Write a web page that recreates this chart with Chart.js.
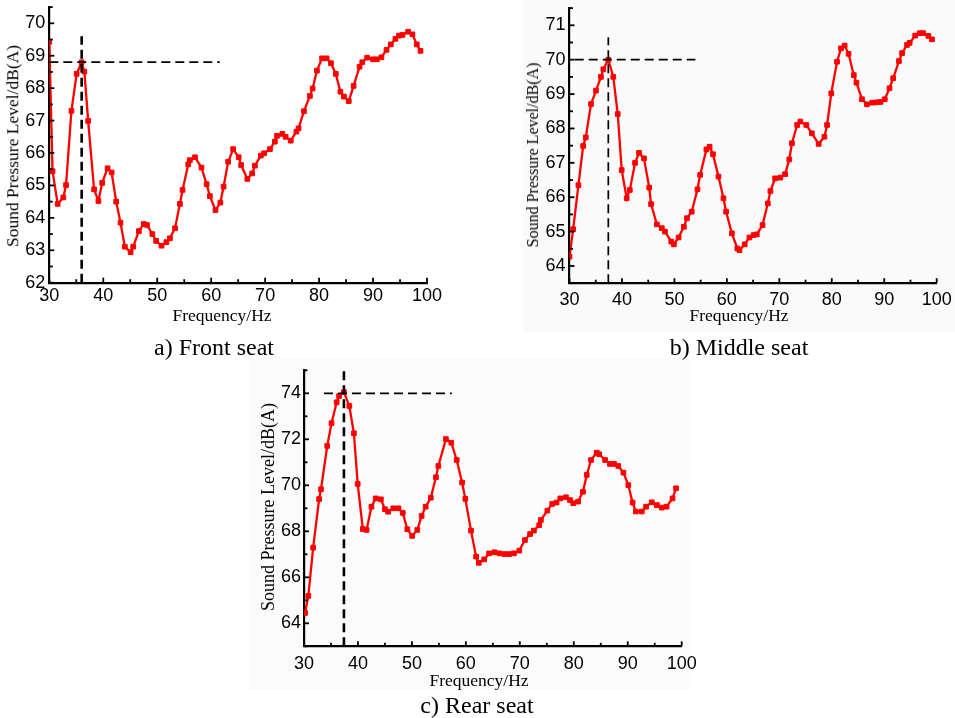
<!DOCTYPE html>
<html>
<head>
<meta charset="utf-8">
<script src="https://cdn.jsdelivr.net/npm/chart.js@4.4.1/dist/chart.umd.min.js"></script>
<style>
  html, body { margin: 0; padding: 0; background: #ffffff; }
  body { width: 955px; height: 718px; position: relative; overflow: hidden; }
  .sheet { position: absolute; }
  canvas { position: absolute; }
  .txt {
    position: absolute; white-space: nowrap; color: #000;
    font-family: "Liberation Serif", "Times New Roman", serif;
    transform: translate(-50%, -50%);
    line-height: 1;
  }
  .vert { transform: translate(-50%, -50%) rotate(-90deg); }
</style>
</head>
<body>
<div class="sheet" style="left:523px;top:0;width:432px;height:332px;background:#fafafa"></div>
<div class="sheet" style="left:250px;top:358px;width:440px;height:332px;background:#fbfbfb"></div>

<canvas id="front" width="470" height="330" style="left:0;top:0"></canvas>
<canvas id="middle" width="440" height="330" style="left:515px;top:0"></canvas>
<canvas id="rear" width="460" height="330" style="left:250px;top:355px"></canvas>

<div class="txt vert" style="left:13px;top:146px;font-size:17.5px">Sound Pressure Level/dB(A)</div>
<div class="txt" style="left:222px;top:316px;font-size:17.5px">Frequency/Hz</div>
<div class="txt" style="left:214px;top:347px;font-size:24px">a) Front seat</div>

<div class="txt vert" style="left:533px;top:155px;font-size:16px">Sound Pressure Level/dB(A)</div>
<div class="txt" style="left:739px;top:316px;font-size:17.5px">Frequency/Hz</div>
<div class="txt" style="left:739px;top:347px;font-size:24px">b) Middle seat</div>

<div class="txt vert" style="left:268px;top:507px;font-size:18px">Sound Pressure Level/dB(A)</div>
<div class="txt" style="left:479px;top:681px;font-size:17.5px">Frequency/Hz</div>
<div class="txt" style="left:477px;top:705px;font-size:24px">c) Rear seat</div>

<script>
// Measured spectra: frequency (Hz) and A-weighted sound pressure level (dB(A))
const freqFront = [30.0, 30.6, 31.55, 32.6, 33.1, 34.1, 35.07, 36.0, 36.5, 37.2, 38.3, 39.1, 39.8, 40.8, 41.55, 42.4, 43.2, 44.0, 45.07, 45.55, 46.6, 47.5, 48.1, 49.1, 49.8, 50.8, 51.7, 52.35, 53.3, 54.2, 54.7, 55.75, 56.05, 57.0, 58.2, 59.15, 59.76, 60.8, 61.7, 62.3, 63.15, 64.07, 65.1, 65.55, 66.7, 67.6, 68.1, 69.2, 69.8, 70.9, 71.8, 72.2, 73.2, 73.8, 74.75, 75.8, 76.2, 77.2, 78.3, 78.8, 79.6, 80.55, 81.4, 82.2, 83.1, 83.95, 84.6, 85.5, 86.4, 87.5, 88.0, 88.9, 90.0, 90.7, 91.55, 92.5, 93.3, 94.15, 94.8, 95.45, 96.5, 97.3, 98.1, 98.8];
const levelFront = [69.43, 65.44, 64.43, 64.63, 65.01, 67.30, 68.44, 68.80, 68.51, 66.99, 64.88, 64.52, 65.08, 65.53, 65.40, 64.50, 63.85, 63.11, 62.94, 63.11, 63.59, 63.81, 63.78, 63.50, 63.29, 63.14, 63.25, 63.37, 63.68, 64.43, 64.86, 65.65, 65.78, 65.87, 65.55, 65.04, 64.67, 64.24, 64.47, 64.96, 65.73, 66.12, 65.87, 65.63, 65.20, 65.37, 65.61, 65.92, 65.99, 66.12, 66.35, 66.53, 66.59, 66.50, 66.38, 66.66, 66.76, 67.29, 67.76, 67.99, 68.54, 68.92, 68.92, 68.77, 68.44, 67.89, 67.74, 67.60, 68.07, 68.66, 68.80, 68.94, 68.89, 68.89, 68.95, 69.18, 69.35, 69.52, 69.62, 69.64, 69.74, 69.66, 69.35, 69.15];

const freqMiddle = [30.0, 30.7, 31.7, 32.6, 33.1, 34.1, 35.05, 36.0, 36.45, 37.4, 38.35, 39.2, 39.95, 40.9, 41.5, 42.5, 43.25, 44.2, 45.2, 45.55, 46.65, 47.6, 48.2, 49.4, 49.9, 50.8, 51.8, 52.4, 53.3, 54.4, 54.9, 56.1, 56.7, 57.35, 58.4, 59.35, 59.85, 60.95, 62.0, 62.4, 63.4, 64.3, 65.1, 65.7, 66.8, 67.8, 68.3, 69.2, 70.2, 71.1, 71.9, 72.4, 73.4, 74.0, 75.15, 76.2, 77.5, 78.6, 79.1, 79.9, 81.0, 81.75, 82.45, 83.2, 84.2, 84.7, 85.75, 86.7, 87.7, 88.6, 89.3, 90.1, 91.0, 91.7, 92.8, 93.4, 94.35, 94.85, 95.9, 96.8, 97.4, 98.4, 99.1];
const levelMiddle = [64.27, 65.07, 66.35, 67.49, 67.74, 68.71, 69.10, 69.50, 69.72, 70.00, 69.50, 68.42, 66.79, 65.97, 66.21, 67.00, 67.29, 67.13, 66.28, 65.80, 65.21, 65.10, 65.00, 64.71, 64.63, 64.83, 65.14, 65.39, 65.58, 66.23, 66.65, 67.39, 67.47, 67.25, 66.60, 65.97, 65.58, 64.95, 64.51, 64.46, 64.63, 64.83, 64.90, 64.92, 65.19, 65.82, 66.18, 66.55, 66.57, 66.67, 67.10, 67.57, 68.10, 68.20, 68.10, 67.86, 67.55, 67.76, 68.10, 69.02, 69.94, 70.33, 70.41, 70.17, 69.55, 69.33, 68.85, 68.70, 68.75, 68.76, 68.77, 68.85, 69.17, 69.46, 69.96, 70.19, 70.43, 70.49, 70.70, 70.77, 70.77, 70.69, 70.59];

const freqRear = [30.2, 30.8, 31.7, 32.8, 33.15, 34.3, 35.1, 36.05, 36.5, 37.4, 38.4, 39.25, 39.95, 40.9, 41.6, 42.5, 43.3, 44.25, 45.0, 45.6, 46.55, 47.5, 48.3, 49.15, 50.05, 51.0, 51.8, 52.55, 53.5, 54.45, 54.9, 56.3, 57.3, 58.3, 59.3, 59.9, 60.95, 61.9, 62.4, 63.4, 64.3, 65.3, 66.2, 67.15, 68.0, 68.9, 69.9, 70.95, 71.9, 72.6, 73.6, 73.9, 75.1, 76.0, 76.8, 77.5, 78.55, 79.3, 79.9, 80.8, 81.7, 82.4, 83.2, 84.25, 84.7, 85.8, 86.7, 87.45, 88.25, 89.2, 90.1, 90.9, 91.5, 92.6, 93.4, 94.45, 95.4, 96.3, 97.2, 98.3, 98.95];
const levelRear = [64.45, 65.19, 67.29, 69.40, 69.83, 71.71, 72.70, 73.61, 73.88, 74.05, 73.45, 72.26, 70.06, 68.10, 68.06, 69.07, 69.43, 69.39, 68.96, 68.85, 69.00, 69.00, 68.80, 68.09, 67.80, 68.06, 68.67, 69.07, 69.46, 70.35, 70.84, 72.01, 71.85, 71.10, 70.12, 69.41, 68.03, 66.90, 66.63, 66.78, 67.04, 67.09, 67.04, 67.01, 67.01, 67.04, 67.16, 67.62, 67.88, 68.03, 68.27, 68.49, 68.90, 69.19, 69.25, 69.43, 69.48, 69.36, 69.22, 69.29, 69.72, 70.45, 71.10, 71.42, 71.35, 71.10, 70.93, 70.93, 70.84, 70.55, 70.01, 69.25, 68.86, 68.86, 69.07, 69.26, 69.14, 69.03, 69.07, 69.43, 69.87];

// Axis ranges and labelled ticks
const freqRange = [30, 100];
const freqTicks = [30, 40, 50, 60, 70, 80, 90, 100];
const levelRangeFront = [62, 70.5];
const levelTicksFront = [62, 63, 64, 65, 66, 67, 68, 69, 70];
const levelRangeMiddle = [63.5, 71.5];
const levelTicksMiddle = [64, 65, 66, 67, 68, 69, 70, 71];
const levelRangeRear = [63, 75];
const levelTicksRear = [64, 66, 68, 70, 72, 74];

// Peak guides: peak frequency, peak level, span of the level guide (Hz), top of the frequency guide (dB)
const peakFront = [36.0, 68.8];
const peakSpanFront = [30.0, 61.6];
const peakTopFront = 69.6;
const peakMiddle = [37.4, 70.0];
const peakSpanMiddle = [31.0, 54.0];
const peakTopMiddle = 70.65;
const peakRear = [37.4, 74.0];
const peakSpanRear = [33.7, 57.4];
const peakTopRear = 75.15;

const SANS = "'Liberation Sans', Arial, sans-serif";

// Tick marks point into the plot (major + minor)
function minorOf(major, range) {
  const out = [];
  const step = major[1] - major[0];
  for (let i = 0; i < major.length; i++) {
    [major[i] - step / 2, major[i] + step / 2].forEach(v => {
      if (v >= range[0] - 1e-9 && v <= range[1] + 1e-9 && !out.some(o => Math.abs(o - v) < 1e-9)) out.push(v);
    });
  }
  return out;
}

function inwardTicks(xMajor, xMinor, yMajor, yMinor) {
  return {
    id: 'inwardTicks',
    afterDraw(chart) {
      const { ctx, chartArea: a, scales: { x, y } } = chart;
      ctx.save();
      ctx.strokeStyle = '#000';
      ctx.lineWidth = 1.8;
      const mark = (scale, vals, len) => vals.forEach(v => {
        const p = scale.getPixelForValue(v);
        ctx.beginPath();
        if (scale.axis === 'x') { ctx.moveTo(p, a.bottom); ctx.lineTo(p, a.bottom - len); }
        else { ctx.moveTo(a.left, p); ctx.lineTo(a.left + len, p); }
        ctx.stroke();
      });
      mark(x, xMajor, 5); mark(x, xMinor, 3.5);
      mark(y, yMajor, 5); mark(y, yMinor, 3.5);
      ctx.restore();
    }
  };
}

function panel(id, box, plot, freq, level, yRange, yTicks, peak, span, top, vWidth, yPad, xPad) {
  const series = freq.map((f, i) => ({ x: f, y: level[i] }));
  const guide = { borderColor: '#000', borderDash: [9, 5], pointRadius: 0, clip: false, order: 1, tension: 0 };
  new Chart(document.getElementById(id), {
    type: 'line',
    data: {
      datasets: [
        {
          data: series, borderColor: '#ff0000', backgroundColor: '#ff0000', borderWidth: 2.3,
          pointStyle: 'rect', pointRadius: 3.3, pointBorderWidth: 1,
          pointBackgroundColor: '#ff0000', pointBorderColor: '#ff0000', tension: 0, order: 2
        },
        Object.assign({ data: [{ x: peak[0], y: yRange[0] }, { x: peak[0], y: top }], borderWidth: vWidth }, guide),
        Object.assign({ data: [{ x: span[0], y: peak[1] }, { x: span[1], y: peak[1] }], borderWidth: 1.7 }, guide)
      ]
    },
    options: {
      responsive: false, animation: false, devicePixelRatio: 1,
      layout: { padding: { left: 0, top: plot.top - box.top, right: box.left + box.width - plot.right, bottom: 0 } },
      plugins: { legend: { display: false }, tooltip: { enabled: false } },
      scales: {
        x: {
          type: 'linear', min: freqRange[0], max: freqRange[1],
          afterBuildTicks: s => { s.ticks = freqTicks.map(v => ({ value: v })); },
          afterFit: s => { s.height = box.top + box.height - plot.bottom; s.paddingLeft = 0; s.paddingRight = 0; },
          grid: { display: false, drawTicks: false },
          border: { display: true, color: '#000', width: 2.2 },
          ticks: { color: '#000', font: { family: SANS, size: 18 }, padding: xPad, maxRotation: 0, autoSkip: false }
        },
        y: {
          type: 'linear', min: yRange[0], max: yRange[1],
          afterBuildTicks: s => { s.ticks = yTicks.map(v => ({ value: v })); },
          afterFit: s => { s.width = plot.left - box.left; s.paddingTop = 0; s.paddingBottom = 0; },
          grid: { display: false, drawTicks: false },
          border: { display: true, color: '#000', width: 2.2 },
          ticks: { color: '#000', font: { family: SANS, size: 18 }, padding: yPad, autoSkip: false }
        }
      }
    },
    plugins: [inwardTicks(freqTicks, minorOf(freqTicks, freqRange), yTicks, minorOf(yTicks, yRange))]
  });
}

panel('front', { left: 0, top: 0, width: 470, height: 330 },
  { left: 49.3, right: 427, top: 7.1, bottom: 282.7 },
  freqFront, levelFront, levelRangeFront, levelTicksFront,
  peakFront, peakSpanFront, peakTopFront, 2.6, 4, 3);

panel('middle', { left: 515, top: 0, width: 440, height: 330 },
  { left: 569.5, right: 936.7, top: 8.1, bottom: 283.2 },
  freqMiddle, levelMiddle, levelRangeMiddle, levelTicksMiddle,
  peakMiddle, peakSpanMiddle, peakTopMiddle, 1.7, 4, 6);

panel('rear', { left: 250, top: 355, width: 460, height: 330 },
  { left: 304, right: 681.7, top: 370.3, bottom: 646.3 },
  freqRear, levelRear, levelRangeRear, levelTicksRear,
  peakRear, peakSpanRear, peakTopRear, 2.6, 3, 7);
</script>
</body>
</html>
